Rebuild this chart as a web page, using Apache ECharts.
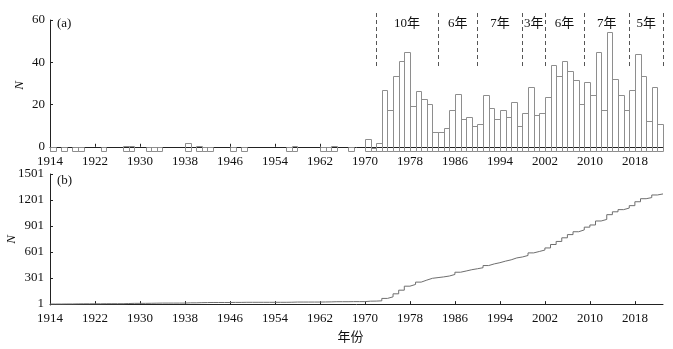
<!DOCTYPE html>
<html><head><meta charset="utf-8">
<script src="https://cdn.jsdelivr.net/npm/echarts@6/dist/echarts.min.js"></script>
<style>html,body{margin:0;padding:0;background:#fff}#c{width:673px;height:349px}</style>
</head><body><div id="c"></div>
<script>
// ---------- data ----------
const startYear = 1914;
// (a) yearly histogram, values as read on the top axis (null = no bar), 1914..2022
const histValues = [
  -0.3,null,-0.3,null,-0.3,-0.3,null,null,null,-0.3,      // 1914-1923
  null,null,null,0.6,0.6,null,null,-0.3,-0.3,-0.3,        // 1924-1933
  null,null,null,null,1.9,null,0.6,-0.3,-0.3,null,        // 1934-1943
  null,null,-0.3,null,-0.3,null,null,null,null,null,      // 1944-1953
  null,null,-0.3,0.6,null,null,null,null,-0.3,-0.3,       // 1954-1963
  0.6,null,null,-0.3,null,null,                           // 1964-1969
  3.7,-0.5,1.9,27.1,17.4,33.6,40.7,44.9,19.3,26.3,        // 1970-1979
  22.4,20.1,7.0,7.0,9.0,17.3,25.2,13.1,14.0,9.8,          // 1980-1989
  10.7,24.3,18.2,13.2,17.3,14.0,21.2,9.8,16.0,28.5,       // 1990-1999
  15.0,16.0,23.4,38.8,33.6,40.7,35.7,31.6,20.2,30.5,      // 2000-2009
  24.3,44.9,17.4,54.2,32.2,24.4,17.4,27.1,43.9,33.6,      // 2010-2019
  12.1,28.5,10.9                                          // 2020-2022
];
// (b) cumulative count, 1914..2022
const cumValues = [
  1,1,2,2,3,4,4,4,4,5,
  5,5,5,7,9,9,9,10,11,12,
  12,12,12,12,15,15,17,18,19,19,
  19,19,20,20,21,21,21,21,21,21,
  21,21,22,24,24,24,24,24,25,26,
  28,28,28,29,29,29,
  34,35,38,66,84,119,161,207,227,254,
  277,298,306,314,324,342,368,382,397,408,
  420,445,464,478,496,511,533,544,561,591,
  607,624,648,688,723,765,802,835,856,888,
  913,959,977,1032,1065,1090,1108,1136,1181,1216,
  1229,1259,1271
];
const endYear = 2023;
const xTickLabels = [1914,1922,1930,1938,1946,1954,1962,1970,1978,1986,1994,2002,2010,2018];
const yTicksTop = [0,20,40,60];
const yTicksBottom = [1,301,601,901,1201,1501];
const periodBounds = [1972,1983,1990,1998,2002,2009,2017,2023];
const periodLabels = ['10年','6年','7年','3年','6年','7年','5年'];

// ---------- chart ----------
const serif = "'Liberation Serif','Times New Roman','Noto Sans CJK SC',serif";
const topMin = -2, topMax = 60, botMin = -10, botMax = 1501;
const dashLow = 37.8, dashHigh = 63.3, periodLabelY = 58.2;
const axisColor = '#222';
const plain = v => String(v);

function xAxisCfg(gridIndex, margin) {
  return {
    type: 'value', gridIndex, min: startYear, max: endYear,
    axisLine: { show: true, lineStyle: { color: axisColor, width: 1 } },
    axisTick: { show: true, inside: true, length: 3, customValues: xTickLabels, lineStyle: { color: axisColor } },
    axisLabel: { customValues: xTickLabels, formatter: plain, fontFamily: serif, fontSize: 13, color: '#111', margin },
    splitLine: { show: false }
  };
}

const histData = histValues.map((v, i) => [startYear + i, v]).filter(d => d[1] !== null);
const lineData = cumValues.map((v, i) => [startYear + i, v]);
lineData.push([endYear, cumValues[cumValues.length - 1]]);

const option = {
  animation: false,
  backgroundColor: '#fff',
  grid: [
    { left: 50, right: 10, top: 20, height: 131, containLabel: false, outerBoundsMode: 'none' },
    { left: 50, right: 10, top: 174, height: 131, containLabel: false, outerBoundsMode: 'none' }
  ],
  xAxis: [
    xAxisCfg(0, 4),
    Object.assign(xAxisCfg(1, 7), {
      name: '年份', nameLocation: 'middle', nameGap: 25, nameMoveOverlap: false,
      nameTextStyle: { fontFamily: "'Noto Sans CJK SC',sans-serif", fontSize: 13, color: '#111', padding: [0, 12, 0, 0] }
    })
  ],
  yAxis: [
    {
      type: 'value', gridIndex: 0, min: topMin, max: topMax,
      name: 'N', nameLocation: 'middle', nameGap: 24, nameMoveOverlap: false,
      nameTextStyle: { fontFamily: serif, fontStyle: 'italic', fontSize: 13, color: '#111' },
      axisLine: { show: true, lineStyle: { color: axisColor } },
      axisTick: { show: true, inside: true, length: 3, customValues: yTicksTop, lineStyle: { color: axisColor } },
      axisLabel: { customValues: yTicksTop, formatter: plain, fontFamily: serif, fontSize: 13, color: '#111', margin: 5 },
      splitLine: { show: false }
    },
    {
      type: 'value', gridIndex: 1, min: botMin, max: botMax,
      name: 'N', nameLocation: 'middle', nameGap: 32, nameMoveOverlap: false,
      nameTextStyle: { fontFamily: serif, fontStyle: 'italic', fontSize: 13, color: '#111' },
      axisLine: { show: true, lineStyle: { color: axisColor } },
      axisTick: { show: true, inside: true, length: 3, customValues: yTicksBottom, lineStyle: { color: axisColor } },
      axisLabel: { customValues: yTicksBottom, formatter: plain, fontFamily: serif, fontSize: 13, color: '#111', margin: 6 },
      splitLine: { show: false }
    }
  ],
  graphic: [
    { type: 'text', left: 57, top: 17, style: { text: '(a)', font: "13px 'Liberation Serif',serif", fill: '#111' } },
    { type: 'text', left: 57, top: 174, style: { text: '(b)', font: "13px 'Liberation Serif',serif", fill: '#111' } }
  ],
  series: [
    {
      type: 'custom', xAxisIndex: 0, yAxisIndex: 0, clip: false,
      data: histData, encode: { x: 0, y: 1 },
      renderItem: (params, api) => {
        const yr = api.value(0), v = api.value(1);
        const p0 = api.coord([yr, topMin]);
        const p1 = api.coord([yr + 1, v]);
        const x0 = Math.round(p0[0]) + 0.5, x1 = Math.round(p1[0]) + 0.5;
        const yb = Math.round(p0[1]) + 0.5, yt = Math.round(p1[1]) + 0.5;
        return {
          type: 'rect',
          shape: { x: x0, y: yt, width: x1 - x0, height: yb - yt },
          style: { fill: 'rgba(0,0,0,0)', stroke: '#8e8e8e', lineWidth: 1 }
        };
      }
    },
    {
      type: 'custom', xAxisIndex: 0, yAxisIndex: 0, clip: false,
      data: periodBounds.map(y => [y, dashHigh]), encode: { x: 0, y: 1 },
      renderItem: (params, api) => {
        const yr = api.value(0);
        const a = api.coord([yr, dashHigh]), b = api.coord([yr, dashLow]);
        const x = Math.round(a[0]) + 0.5;
        return {
          type: 'line',
          shape: { x1: x, y1: a[1], x2: x, y2: b[1] },
          style: { stroke: '#555', lineWidth: 1, lineDash: [4, 3] }
        };
      }
    },
    {
      type: 'custom', xAxisIndex: 0, yAxisIndex: 0, clip: false,
      data: periodLabels.map((t, i) => [(periodBounds[i] + periodBounds[i + 1]) / 2, periodLabelY, t]),
      encode: { x: 0, y: 1 },
      renderItem: (params, api) => {
        const p = api.coord([api.value(0), api.value(1)]);
        return {
          type: 'text', x: p[0], y: p[1],
          style: { text: periodLabels[params.dataIndex], fill: '#111', align: 'center', verticalAlign: 'middle',
                   font: "13px 'Liberation Serif','Noto Sans CJK SC',serif" }
        };
      }
    },
    {
      type: 'line', xAxisIndex: 1, yAxisIndex: 1, data: lineData, step: 'end',
      showSymbol: false, symbol: 'none',
      lineStyle: { color: '#6e6e6e', width: 1 }
    }
  ]
};
echarts.init(document.getElementById('c'), null, { renderer: 'canvas' }).setOption(option);
</script>
</body></html>
